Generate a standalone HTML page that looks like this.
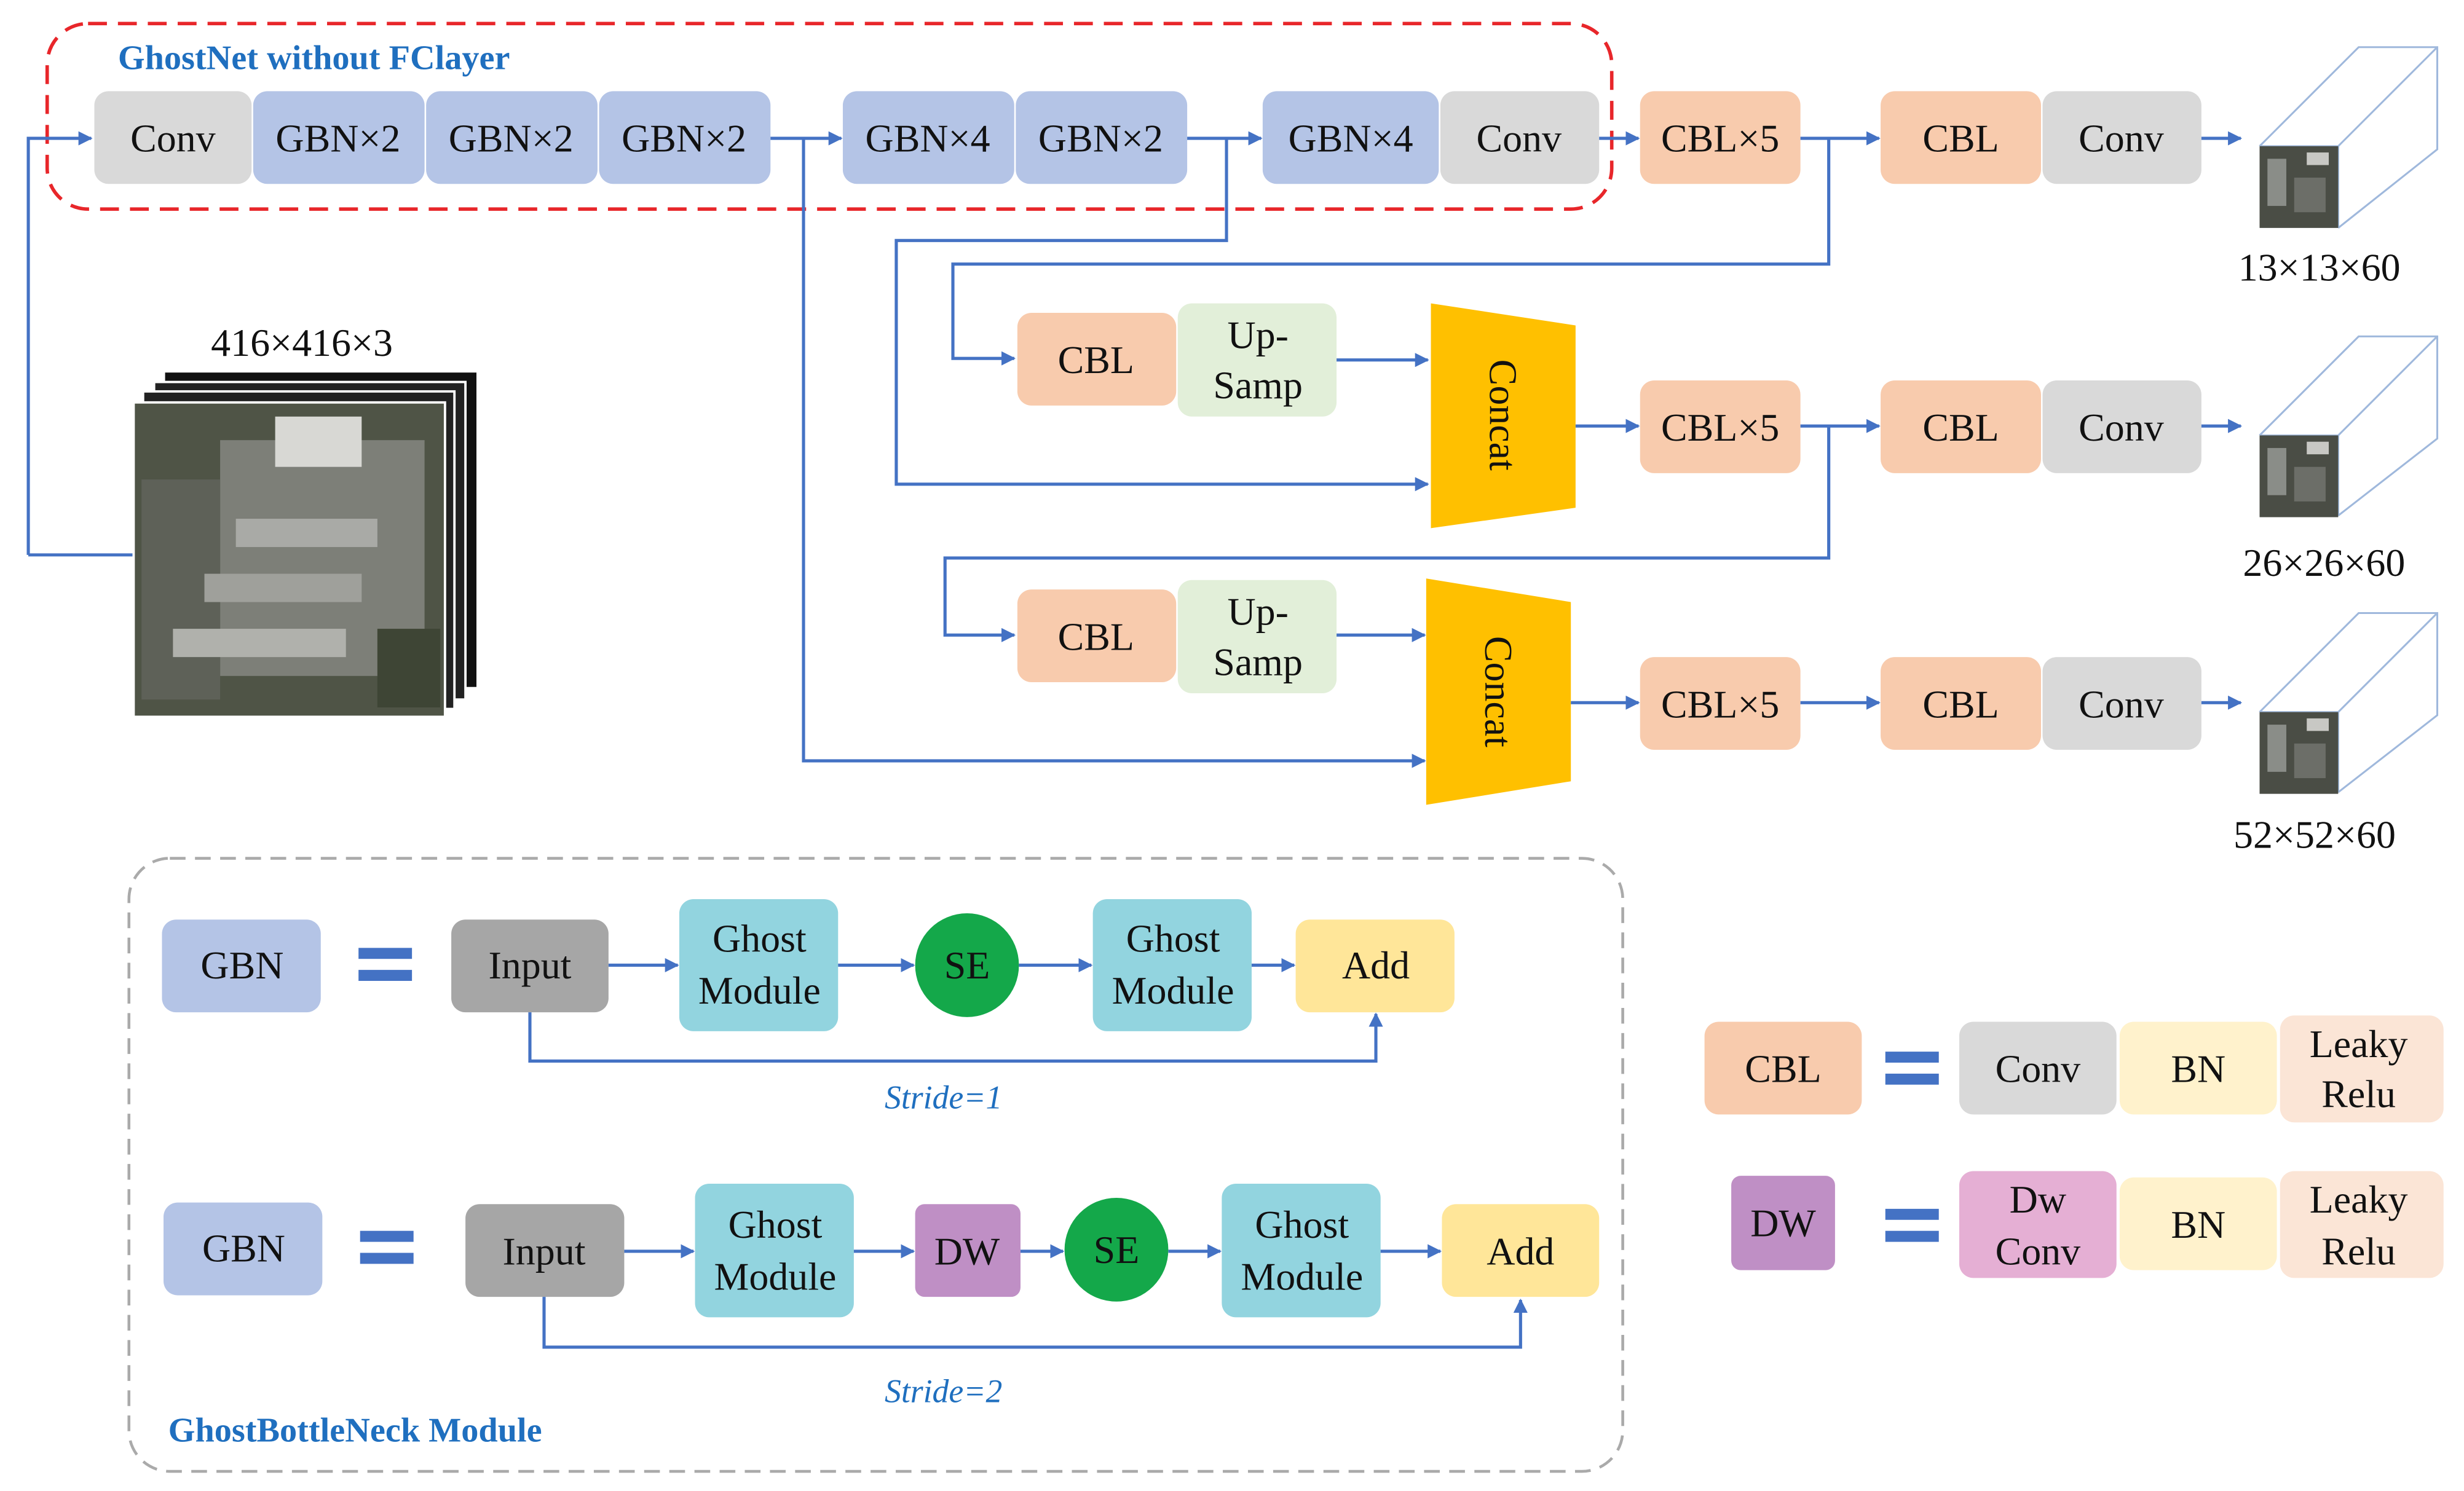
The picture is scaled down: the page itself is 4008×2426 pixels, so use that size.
<!DOCTYPE html>
<html><head><meta charset="utf-8"><style>html,body{margin:0;padding:0;background:#fff}svg{display:block}</style></head>
<body>
<svg width="4008" height="2426" viewBox="0 0 1567 948.5" preserveAspectRatio="none" xmlns="http://www.w3.org/2000/svg" font-family="'Liberation Serif', serif">
<defs>
<marker id="a" viewBox="0 0 10 10" refX="9" refY="5" markerWidth="4.5" markerHeight="4.5" orient="auto"><path d="M0,0L10,5L0,10z" fill="#4472c4"/></marker>
<g id="img">
<rect x="0" y="0" width="50" height="52" fill="#4a4d45"/>
<rect x="5" y="8" width="12" height="30" fill="#8a8d88"/>
<rect x="22" y="20" width="20" height="22" fill="#6c6e68"/>
<rect x="30" y="4" width="14" height="8" fill="#c8c8c4"/>
</g>
</defs>
<style>
text{font-size:25px;fill:#111;text-anchor:middle;dominant-baseline:central}
.l{fill:none;stroke:#4472c4;stroke-width:2}
.ar{fill:none;stroke:#4472c4;stroke-width:2;marker-end:url(#a)}
.t{fill:#1f6fbf;font-weight:bold;font-size:22px;text-anchor:start}
.s{fill:#1f6fbf;font-style:italic;font-size:21px}
.c{fill:none;stroke:#9fb8dc;stroke-width:1.2}
</style>

<rect x="30" y="15" width="995" height="118" rx="26" fill="none" stroke="#e8262a" stroke-width="2.2" stroke-dasharray="12,7"/>
<text x="75" y="37" class="t">GhostNet without FClayer</text>

<g>
<rect x="60" y="58" width="100" height="59" rx="9" fill="#d9d9d9"/><text x="110" y="88">Conv</text>
<rect x="161" y="58" width="109" height="59" rx="9" fill="#b4c4e6"/><text x="215" y="88">GBN×2</text>
<rect x="271" y="58" width="109" height="59" rx="9" fill="#b4c4e6"/><text x="325" y="88">GBN×2</text>
<rect x="381" y="58" width="109" height="59" rx="9" fill="#b4c4e6"/><text x="435" y="88">GBN×2</text>
<rect x="536" y="58" width="109" height="59" rx="9" fill="#b4c4e6"/><text x="590" y="88">GBN×4</text>
<rect x="646" y="58" width="109" height="59" rx="9" fill="#b4c4e6"/><text x="700" y="88">GBN×2</text>
<rect x="803" y="58" width="112" height="59" rx="9" fill="#b4c4e6"/><text x="859" y="88">GBN×4</text>
<rect x="916" y="58" width="101" height="59" rx="9" fill="#d9d9d9"/><text x="966" y="88">Conv</text>
<rect x="1043" y="58" width="102" height="59" rx="9" fill="#f8cbad"/><text x="1094" y="88">CBL×5</text>
<rect x="1196" y="58" width="102" height="59" rx="9" fill="#f8cbad"/><text x="1247" y="88">CBL</text>
<rect x="1299" y="58" width="101" height="59" rx="9" fill="#d9d9d9"/><text x="1349" y="88">Conv</text>
</g>
<path class="ar" d="M18,353V88H58"/>
<line class="l" x1="18" y1="353" x2="86" y2="353"/>
<line class="ar" x1="490" y1="88" x2="535" y2="88"/>
<line class="ar" x1="755" y1="88" x2="802" y2="88"/>
<line class="ar" x1="1017" y1="88" x2="1042" y2="88"/>
<line class="ar" x1="1145" y1="88" x2="1195" y2="88"/>
<line class="ar" x1="1400" y1="88" x2="1425" y2="88"/>

<path class="ar" d="M780,88V153H570V308H908"/>
<path class="ar" d="M1163,88V168H606V228H645"/>
<path class="ar" d="M1163,271V355H601V404H645"/>
<path class="ar" d="M511,88V484H906"/>

<rect x="647" y="199" width="101" height="59" rx="9" fill="#f8cbad"/><text x="697" y="229">CBL</text>
<rect x="749" y="193" width="101" height="72" rx="9" fill="#e2efd9"/><text x="800" y="213">Up-</text><text x="800" y="245">Samp</text>
<line class="ar" x1="850" y1="229" x2="908" y2="229"/>
<path d="M910,193L1002,207V323L910,336z" fill="#ffc000"/>
<text x="956" y="264" transform="rotate(90 956 264)">Concat</text>
<line class="ar" x1="1002" y1="271" x2="1042" y2="271"/>
<rect x="1043" y="242" width="102" height="59" rx="9" fill="#f8cbad"/><text x="1094" y="272">CBL×5</text>
<rect x="1196" y="242" width="102" height="59" rx="9" fill="#f8cbad"/><text x="1247" y="272">CBL</text>
<rect x="1299" y="242" width="101" height="59" rx="9" fill="#d9d9d9"/><text x="1349" y="272">Conv</text>
<line class="ar" x1="1145" y1="271" x2="1195" y2="271"/>
<line class="ar" x1="1400" y1="271" x2="1425" y2="271"/>

<rect x="647" y="375" width="101" height="59" rx="9" fill="#f8cbad"/><text x="697" y="405">CBL</text>
<rect x="749" y="369" width="101" height="72" rx="9" fill="#e2efd9"/><text x="800" y="389">Up-</text><text x="800" y="421">Samp</text>
<line class="ar" x1="850" y1="404" x2="906" y2="404"/>
<path d="M907,368L999,383V497L907,512z" fill="#ffc000"/>
<text x="953" y="440" transform="rotate(90 953 440)">Concat</text>
<line class="ar" x1="999" y1="447" x2="1042" y2="447"/>
<rect x="1043" y="418" width="102" height="59" rx="9" fill="#f8cbad"/><text x="1094" y="448">CBL×5</text>
<rect x="1196" y="418" width="102" height="59" rx="9" fill="#f8cbad"/><text x="1247" y="448">CBL</text>
<rect x="1299" y="418" width="101" height="59" rx="9" fill="#d9d9d9"/><text x="1349" y="448">Conv</text>
<line class="ar" x1="1145" y1="447" x2="1195" y2="447"/>
<line class="ar" x1="1400" y1="447" x2="1425" y2="447"/>

<g>
<path class="c" d="M1437,93L1500,30H1550V95L1487,145M1487,93L1550,30M1437,93H1487V145"/>
<use href="#img" x="1437" y="93"/>
<text x="1475" y="170">13×13×60</text>
</g>
<g>
<path class="c" d="M1437,277L1500,214H1550V279L1487,328M1487,277L1550,214M1437,277H1487V328"/>
<use href="#img" x="1437" y="277"/>
<text x="1478" y="358">26×26×60</text>
</g>
<g>
<path class="c" d="M1437,453L1500,390H1550V455L1487,504M1487,453L1550,390M1437,453H1487V504"/>
<use href="#img" x="1437" y="453"/>
<text x="1472" y="531">52×52×60</text>
</g>

<text x="192" y="218">416×416×3</text>
<rect x="105" y="237" width="198" height="200" fill="#111"/>
<rect x="98" y="243" width="198" height="202" fill="#222" stroke="#fff" stroke-width="1.5"/>
<rect x="91" y="249" width="198" height="202" fill="#222" stroke="#fff" stroke-width="1.5"/>
<rect x="85" y="256" width="198" height="200" fill="#4f5446" stroke="#fff" stroke-width="1.5"/>
<rect x="140" y="280" width="130" height="150" fill="#7d7f78"/>
<rect x="175" y="265" width="55" height="32" fill="#d8d8d4"/>
<rect x="90" y="305" width="50" height="140" fill="#5e6158"/>
<rect x="150" y="330" width="90" height="18" fill="#a9aaa6"/>
<rect x="130" y="365" width="100" height="18" fill="#9fa09b"/>
<rect x="110" y="400" width="110" height="18" fill="#b0b1ac"/>
<rect x="240" y="400" width="40" height="50" fill="#3e4535"/>

<rect x="82" y="546" width="950" height="390" rx="26" fill="none" stroke="#aaa" stroke-width="1.8" stroke-dasharray="10,6"/>
<text x="107" y="910" class="t">GhostBottleNeck Module</text>

<rect x="103" y="585" width="101" height="59" rx="9" fill="#b4c4e6"/><text x="154" y="614">GBN</text>
<rect x="228" y="603" width="34" height="7" fill="#4472c4"/><rect x="228" y="617" width="34" height="7" fill="#4472c4"/>
<rect x="287" y="585" width="100" height="59" rx="9" fill="#a6a6a6"/><text x="337" y="614">Input</text>
<line class="ar" x1="387" y1="614" x2="431" y2="614"/>
<rect x="432" y="572" width="101" height="84" rx="9" fill="#92d4df"/><text x="483" y="597">Ghost</text><text x="483" y="630">Module</text>
<line class="ar" x1="533" y1="614" x2="581" y2="614"/>
<circle cx="615" cy="614" r="33" fill="#14a84a"/><text x="615" y="614">SE</text>
<line class="ar" x1="648" y1="614" x2="694" y2="614"/>
<rect x="695" y="572" width="101" height="84" rx="9" fill="#92d4df"/><text x="746" y="597">Ghost</text><text x="746" y="630">Module</text>
<line class="ar" x1="796" y1="614" x2="823" y2="614"/>
<rect x="824" y="585" width="101" height="59" rx="9" fill="#ffe699"/><text x="875" y="614">Add</text>
<path class="ar" d="M337,644V675H875V645"/>
<text x="600" y="698" class="s">Stride=1</text>

<rect x="104" y="765" width="101" height="59" rx="9" fill="#b4c4e6"/><text x="155" y="794">GBN</text>
<rect x="229" y="783" width="34" height="7" fill="#4472c4"/><rect x="229" y="797" width="34" height="7" fill="#4472c4"/>
<rect x="296" y="766" width="101" height="59" rx="9" fill="#a6a6a6"/><text x="346" y="796">Input</text>
<line class="ar" x1="397" y1="796" x2="441" y2="796"/>
<rect x="442" y="753" width="101" height="85" rx="9" fill="#92d4df"/><text x="493" y="779">Ghost</text><text x="493" y="812">Module</text>
<line class="ar" x1="543" y1="796" x2="581" y2="796"/>
<rect x="582" y="766" width="67" height="59" rx="6" fill="#bf8fc5"/><text x="615" y="796">DW</text>
<line class="ar" x1="649" y1="796" x2="676" y2="796"/>
<circle cx="710" cy="795" r="33" fill="#14a84a"/><text x="710" y="795">SE</text>
<line class="ar" x1="743" y1="796" x2="776" y2="796"/>
<rect x="777" y="753" width="101" height="85" rx="9" fill="#92d4df"/><text x="828" y="779">Ghost</text><text x="828" y="812">Module</text>
<line class="ar" x1="878" y1="796" x2="916" y2="796"/>
<rect x="917" y="766" width="100" height="59" rx="9" fill="#ffe699"/><text x="967" y="796">Add</text>
<path class="ar" d="M346,825V857H967V827"/>
<text x="600" y="885" class="s">Stride=2</text>

<rect x="1084" y="650" width="100" height="59" rx="9" fill="#f8cbad"/><text x="1134" y="680">CBL</text>
<rect x="1199" y="669" width="34" height="7" fill="#4472c4"/><rect x="1199" y="683" width="34" height="7" fill="#4472c4"/>
<rect x="1246" y="650" width="100" height="59" rx="9" fill="#d9d9d9"/><text x="1296" y="680">Conv</text>
<rect x="1348" y="650" width="100" height="59" rx="9" fill="#fff2cc"/><text x="1398" y="680">BN</text>
<rect x="1450" y="646" width="104" height="68" rx="9" fill="#fbe5d6"/><text x="1500" y="664">Leaky</text><text x="1500" y="696">Relu</text>

<rect x="1101" y="748" width="66" height="60" rx="6" fill="#bf8fc5"/><text x="1134" y="778">DW</text>
<rect x="1199" y="769" width="34" height="7" fill="#4472c4"/><rect x="1199" y="783" width="34" height="7" fill="#4472c4"/>
<rect x="1246" y="745" width="100" height="68" rx="9" fill="#e5afd4"/><text x="1296" y="763">Dw</text><text x="1296" y="796">Conv</text>
<rect x="1348" y="749" width="100" height="59" rx="9" fill="#fff2cc"/><text x="1398" y="779">BN</text>
<rect x="1450" y="745" width="104" height="68" rx="9" fill="#fbe5d6"/><text x="1500" y="763">Leaky</text><text x="1500" y="796">Relu</text>
</svg>
</body></html>
